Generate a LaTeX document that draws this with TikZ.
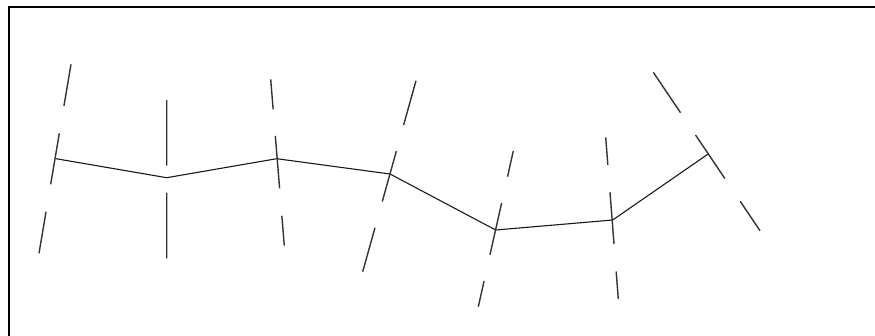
\documentclass[tikz,border=0pt]{standalone}
\usetikzlibrary{calc}
\tikzset{
  frame/.style={draw=black, line width=2.2pt},
  chain/.style={draw=black!90, line width=1.1pt, line join=miter},
  cutline/.style={draw=black!80, line width=1.4pt}
}
\begin{document}
\begin{tikzpicture}[x=1pt,y=-1pt]
\useasboundingbox (0,0) rectangle (875,335);
\draw[frame] (9,7) rectangle (900,360);
% vertices
\coordinate (p1) at (56,158.7);
\coordinate (p2) at (166.7,177.7);
\coordinate (p3) at (276.7,158.7);
\coordinate (p4) at (390,174);
\coordinate (p5) at (495.7,230);
\coordinate (p6) at (612.7,220);
\coordinate (p7) at (707.7,154.3);
% ends of the cut lines
\coordinate (a1) at (71,64.3);     \coordinate (b1) at (39,253.3);
\coordinate (a2) at (166.7,100);   \coordinate (b2) at (166.7,258.3);
\coordinate (a3) at (270.7,79.3);  \coordinate (b3) at (284.3,245.7);
\coordinate (a4) at (416,80.7);    \coordinate (b4) at (362.7,271.7);
\coordinate (a5) at (513.3,151);   \coordinate (b5) at (478.3,306.7);
\coordinate (a6) at (605.7,137.3); \coordinate (b6) at (618.3,299);
\coordinate (a7) at (653.3,72.3);  \coordinate (b7) at (760,230.7);
\draw[chain] (p1) -- (p2) -- (p3) -- (p4) -- (p5) -- (p6) -- (p7);
\foreach \i/\segs in {
  1/{0/.22,.365/.635,.78/1},
  2/{0/.415,.585/1},
  3/{0/.18,.34/.655,.82/1},
  4/{0/.232,.368/.633,.77/1},
  5/{0/.165,.334/.666,.835/1},
  6/{0/.17,.34/.66,.83/1},
  7/{0/.255,.396/.67,.814/1}}{
  \foreach \s/\e in \segs {
    \draw[cutline] ($(a\i)!\s!(b\i)$) -- ($(a\i)!\e!(b\i)$);
  }
}
\end{tikzpicture}
\end{document}
